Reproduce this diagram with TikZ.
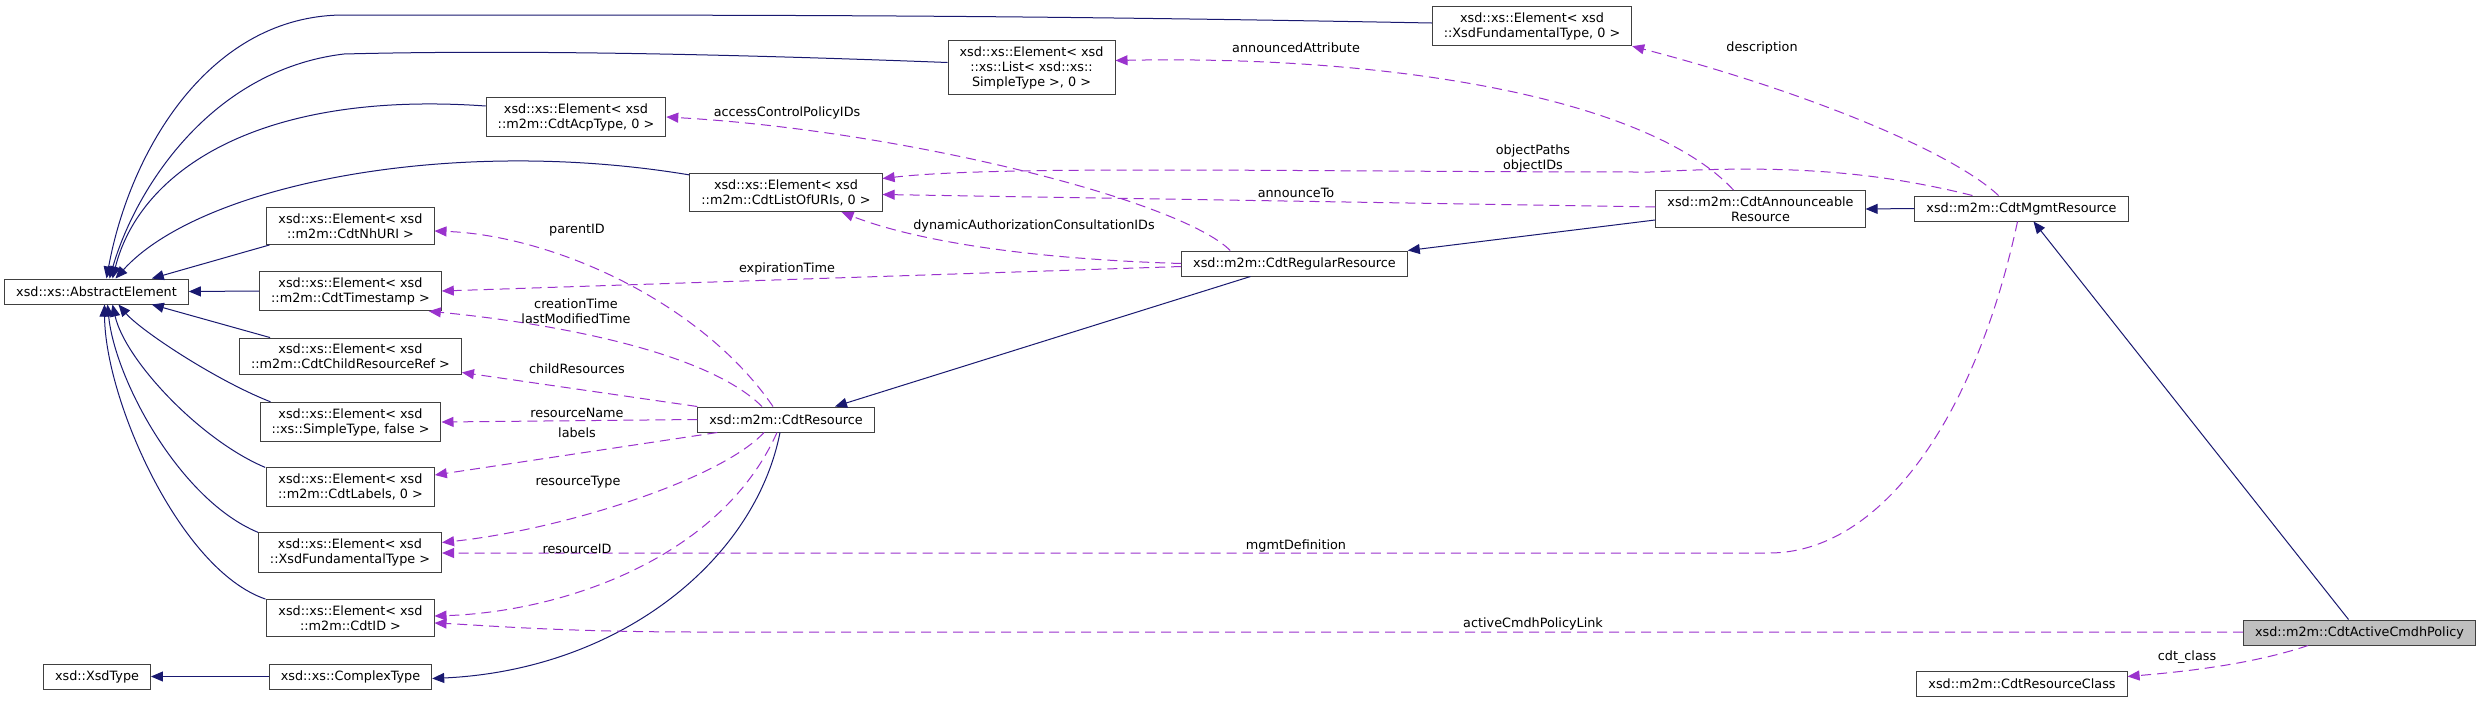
\documentclass[tikz,border=0pt]{standalone}
\usepackage{fontspec}
\setmainfont{DejaVu Sans}
\usepackage{tikz}
\usetikzlibrary{arrows.meta,calc}
\definecolor{inhblue}{RGB}{25,25,112}
\definecolor{memviolet}{RGB}{154,50,205}
\definecolor{boxgray}{RGB}{64,64,64}
\definecolor{curgray}{RGB}{191,191,191}
\tikzset{
  cls/.style={draw=boxgray,line width=1pt,fill=#1,minimum height=25pt,inner xsep=11.5pt,inner ysep=6pt,align=center,font=\fontsize{12.8}{15}\selectfont},
  cls/.default={white},
  inh/.style={-{Triangle[length=12pt,width=10pt]},inhblue,line width=1pt},
  mem/.style={-{Triangle[length=12pt,width=10pt]},memviolet,line width=1pt,dash pattern=on 10pt off 6pt},
  lbl/.style={font=\fontsize{12.8}{15}\selectfont,align=center,inner sep=0pt},
}
\begin{document}
\begin{tikzpicture}[x=1pt,y=-1pt]
 \useasboundingbox[fill=white] (0,0) rectangle (2483,702);
 \node[cls] (fund0) at (1532,26) {xsd::xs::Element< xsd\\::XsdFundamentalType, 0 >};
 \node[cls] (list) at (1031.5,67.5) {xsd::xs::Element< xsd\\::xs::List< xsd::xs::\\SimpleType >, 0 >};
 \node[cls] (acp) at (576,117) {xsd::xs::Element< xsd\\::m2m::CdtAcpType, 0 >};
 \node[cls] (uris) at (786,192.5) {xsd::xs::Element< xsd\\::m2m::CdtListOfURIs, 0 >};
 \node[cls] (nhuri) at (350.5,226) {xsd::xs::Element< xsd\\::m2m::CdtNhURI >};
 \node[cls] (ae) at (96.5,291.5) {xsd::xs::AbstractElement};
 \node[cls] (ts) at (350.5,291) {xsd::xs::Element< xsd\\::m2m::CdtTimestamp >};
 \node[cls] (child) at (350.5,356.5) {xsd::xs::Element< xsd\\::m2m::CdtChildResourceRef >};
 \node[cls] (simple) at (350.5,422) {xsd::xs::Element< xsd\\::xs::SimpleType, false >};
 \node[cls] (labels) at (350.5,487) {xsd::xs::Element< xsd\\::m2m::CdtLabels, 0 >};
 \node[cls] (fundt) at (350,552.5) {xsd::xs::Element< xsd\\::XsdFundamentalType >};
 \node[cls] (cid) at (350.5,618) {xsd::xs::Element< xsd\\::m2m::CdtID >};
 \node[cls] (xsdtype) at (97,676.5) {xsd::XsdType};
 \node[cls] (complex) at (350.5,676.5) {xsd::xs::ComplexType};
 \node[cls] (regular) at (1294.5,263.5) {xsd::m2m::CdtRegularResource};
 \node[cls] (resource) at (786,419.5) {xsd::m2m::CdtResource};
 \node[cls] (announce) at (1760.5,209) {xsd::m2m::CdtAnnounceable\\Resource};
 \node[cls] (mgmt) at (2021.5,208.5) {xsd::m2m::CdtMgmtResource};
 \node[cls=curgray] (active) at (2359.5,632.5) {xsd::m2m::CdtActiveCmdhPolicy};
 \node[cls] (rclass) at (2022,683.5) {xsd::m2m::CdtResourceClass};
 % inheritance
 \draw[inh] ($(fund0.west)+(0,-3)$) .. controls (1000,15) and (800,15) .. (344,15) .. controls (210,15) and (130,150) .. ($(ae.north)+(10,0)$);
 \draw[inh] ($(list.west)+(0,-5)$) .. controls (700,53) and (500,50) .. (344,54) .. controls (210,70) and (135,190) .. ($(ae.north)+(13,0)$);
 \draw[inh] ($(acp.west)+(0,-11)$) .. controls (260,90) and (140,170) .. ($(ae.north)+(16,0)$);
 \draw[inh] ($(uris.north west)+(0,2)$) .. controls (450,135) and (200,185) .. ($(ae.north)+(19,0)$);
 \draw[inh] ($(nhuri.south west)+(3,0)$) -- ($(ae.north east)+(-37,0)$);
 \draw[inh] (ts.west) -- (ae.east);
 \draw[inh] ($(child.north west)+(31,0)$) -- ($(ae.south east)+(-37,0)$);
 \draw[inh] ($(simple.north west)+(11,0)$) .. controls (215,380) and (140,330) .. ($(ae.south)+(22,0)$);
 \draw[inh] ($(labels.north west)+(-1,0)$) .. controls (200,440) and (125,360) .. ($(ae.south)+(16,0)$);
 \draw[inh] (fundt.north west) .. controls (180,500) and (115,380) .. ($(ae.south)+(11,0)$);
 \draw[inh] ($(cid.north west)+(-1,0)$) .. controls (180,570) and (105,400) .. ($(ae.south)+(8,0)$);
 \draw[inh] (complex.west) -- (xsdtype.east);
 \draw[inh] ($(resource.south)+(-6,0)$) .. controls (755,560) and (620,670) .. ($(complex.east)+(0,2)$);
 \draw[inh] ($(regular.south)+(-44,0)$) -- ($(resource.north)+(49,0)$);
 \draw[inh] ($(announce.south west)+(0,-8)$) -- (regular.north east);
 \draw[inh] (mgmt.west) -- (announce.east);
 \draw[inh] ($(active.north)+(-11,0)$) -- ($(mgmt.south)+(12,0)$);
 % members
 \draw[mem] ($(regular.north west)+(49,0)$) .. controls (1180,200) and (900,130) .. (acp.east);
 \draw[mem] (regular.west) .. controls (1000,258) and (900,235) .. ($(uris.south east)+(-41,0)$);
 \draw[mem] ($(regular.west)+(0,3)$) -- (ts.east);
 \draw[mem] ($(announce.north)+(-27,0)$) .. controls (1650,100) and (1400,55) .. ($(list.east)+(0,-7)$);
 \draw[mem] ($(announce.west)+(0,-2)$) -- ($(uris.east)+(0,2)$);
 \draw[mem] ($(mgmt.north west)+(58,0)$) .. controls (1870,170) and (1780,165) .. (1650,172) .. controls (1300,172) and (1000,165) .. ($(uris.east)+(0,-14)$);
 \draw[mem] ($(mgmt.north)+(-23,0)$) .. controls (1950,150) and (1800,90) .. (fund0.south east);
 \draw[mem] ($(mgmt.south)+(-4,0)$) .. controls (1975,420) and (1880,553) .. (1769,553) -- ($(fundt.east)+(0,0.5)$);
 \draw[mem] ($(resource.north)+(-13,0)$) .. controls (700,300) and (550,235) .. ($(nhuri.east)+(0,5)$);
 \draw[mem] ($(resource.north)+(-24,0)$) .. controls (700,345) and (520,320) .. ($(ts.south east)+(-13,0)$);
 \draw[mem] (resource.north west) -- ($(child.south east)+(0,-3)$);
 \draw[mem] (resource.west) -- (simple.east);
 \draw[mem] ($(resource.south west)+(20,0)$) -- ($(labels.east)+(0,-12)$);
 \draw[mem] ($(resource.south)+(-22,0)$) .. controls (720,480) and (560,530) .. ($(fundt.east)+(0,-10)$);
 \draw[mem] ($(resource.south)+(-9,0)$) .. controls (720,560) and (560,612) .. ($(cid.east)+(0,-2)$);
 \draw[mem] ($(active.west)+(0,-0.5)$) -- (700,632) .. controls (560,632) and (480,625) .. ($(cid.east)+(0,5)$);
 \draw[mem] ($(active.south west)+(65,0)$) .. controls (2250,665) and (2180,672) .. ($(rclass.east)+(0,-7)$);
 % member labels
 \node[lbl] (l-acp) at (787,113) {accessControlPolicyIDs};
 \node[lbl] (l-dyn) at (1034,226) {dynamicAuthorizationConsultationIDs};
 \node[lbl] (l-exp) at (787,269) {expirationTime};
 \node[lbl] (l-ann) at (1296,48) {announcedAttribute};
 \node[lbl] (l-to) at (1296,193) {announceTo};
 \node[lbl] (l-obj) at (1533,158) {objectPaths\\objectIDs};
 \node[lbl] (l-desc) at (1762,48) {description};
 \node[lbl] (l-mgmt) at (1296,546) {mgmtDefinition};
 \node[lbl] (l-par) at (577,230) {parentID};
 \node[lbl] (l-time) at (576,311.5) {creationTime\\lastModifiedTime};
 \node[lbl] (l-child) at (577,369) {childResources};
 \node[lbl] (l-name) at (577,413) {resourceName};
 \node[lbl] (l-lab) at (577,433) {labels};
 \node[lbl] (l-type) at (578,482) {resourceType};
 \node[lbl] (l-id) at (577,549) {resourceID};
 \node[lbl] (l-pol) at (1533,624) {activeCmdhPolicyLink};
 \node[lbl] (l-cls) at (2187,657) {cdt\_class};
\end{tikzpicture}
\end{document}
